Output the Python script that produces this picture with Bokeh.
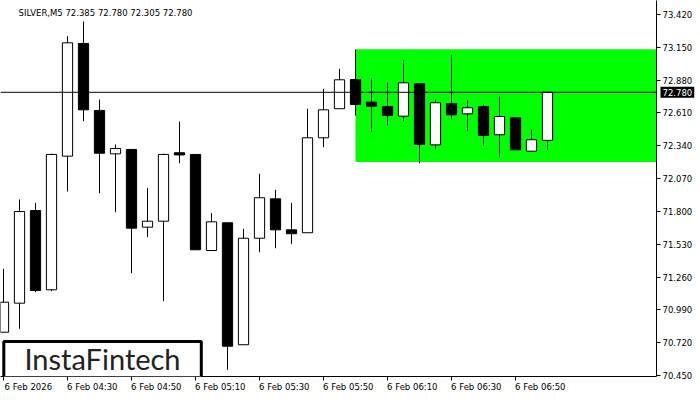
from bokeh.plotting import figure
from bokeh.models import (ColumnDataSource, LinearAxis, FixedTicker, Span, Label,
                          BoxAnnotation, Range1d, NumeralTickFormatter)
from bokeh.embed import file_html
from bokeh.resources import INLINE

# ---- data (SILVER, M5) ----
opens  = [70.807, 71.046, 71.808, 71.156, 72.255, 73.182, 72.631, 72.274, 72.310, 71.671,
          71.720, 72.283, 72.269, 71.479, 71.707, 70.704, 71.580, 71.904, 71.649, 71.625,
          72.406, 72.645, 72.885, 72.699, 72.663, 72.584, 72.850, 72.348, 72.686, 72.603,
          72.663, 72.431, 72.570, 72.296, 72.385]
highs  = [71.329, 71.899, 71.871, 72.275, 73.242, 73.362, 72.721, 72.351, 72.310, 71.994,
          72.275, 72.540, 72.269, 71.786, 71.707, 71.658, 72.110, 71.978, 71.871, 72.645,
          72.809, 72.973, 73.132, 72.899, 72.858, 73.047, 72.850, 72.721, 73.083, 72.713,
          72.680, 72.746, 72.570, 72.474, 72.780]
lows   = [70.807, 70.835, 71.136, 71.145, 71.964, 72.543, 71.950, 71.794, 71.293, 71.589,
          71.062, 72.197, 71.485, 71.479, 70.498, 70.704, 71.465, 71.498, 71.534, 71.625,
          72.329, 72.645, 72.589, 72.452, 72.507, 72.543, 72.197, 72.307, 72.557, 72.460,
          72.337, 72.246, 72.307, 72.296, 72.305]
closes = [71.054, 71.800, 71.150, 72.269, 73.187, 72.636, 72.279, 72.318, 71.663, 71.720,
          72.269, 72.265, 71.485, 71.715, 70.692, 71.580, 71.913, 71.649, 71.617, 72.406,
          72.636, 72.883, 72.680, 72.666, 72.589, 72.858, 72.351, 72.694, 72.595, 72.653,
          72.425, 72.581, 72.307, 72.390, 72.780]

time_tick_idx = [0, 4, 8, 12, 16, 20, 24, 28, 32]
time_labels = ["6 Feb 2026", "6 Feb 04:30", "6 Feb 04:50", "6 Feb 05:10", "6 Feb 05:30",
               "6 Feb 05:50", "6 Feb 06:10", "6 Feb 06:30", "6 Feb 06:50"]
price_ticks = [73.420, 73.150, 72.880, 72.610, 72.340, 72.070, 71.800, 71.530,
               71.260, 70.990, 70.720, 70.450]

pattern_start = 22
pattern_top = 73.135
pattern_bottom = 72.207

title_text = "SILVER,M5  72.385 72.780 72.305 72.780"
last_price = closes[-1]

FONT = "DejaVu Sans"
LABEL_SHIFT = 1.55   # time labels start at their tick (half label width, in bars)

idx = list(range(len(opens)))
src = ColumnDataSource(dict(
    x=idx, open=opens, high=highs, low=lows, close=closes,
    top=[max(o, c) for o, c in zip(opens, closes)],
    bottom=[min(o, c) for o, c in zip(opens, closes)],
    fill=["white" if c >= o else "black" for o, c in zip(opens, closes)],
))

X0, X1 = -0.1875, 40.8125
p = figure(frame_width=656, frame_height=376,
           x_range=Range1d(X0, X1), y_range=Range1d(70.443, 73.535),
           output_backend="svg", toolbar_location=None,
           x_axis_location=None, y_axis_location=None,
           min_border_left=0, min_border_top=0, min_border_right=36, min_border_bottom=15)
p.outline_line_color = None
p.grid.visible = False
p.background_fill_color = "white"
p.border_fill_color = "white"

# pattern rectangle
p.add_layout(BoxAnnotation(left=pattern_start, top=pattern_top, bottom=pattern_bottom,
                           fill_color="#00FF00", fill_alpha=1.0, line_color=None,
                           level="underlay"))

# last price line
p.add_layout(Span(location=last_price, dimension="width", line_color="black", line_width=1))

# candles
p.segment(x0="x", y0="low", x1="x", y1="high", source=src, line_color="black", line_width=1)
p.vbar(x="x", width=0.64, top="top", bottom="bottom", source=src,
       fill_color="fill", line_color="black", line_width=1)

# axes
x_tick_axis = LinearAxis(ticker=FixedTicker(ticks=time_tick_idx),
                         major_label_overrides={t: "" for t in time_tick_idx})
x_tick_axis.major_label_text_font_size = "0px"
x_tick_axis.major_label_standoff = 0
x_label_ticks = [t + LABEL_SHIFT for t in time_tick_idx]
x_label_axis = LinearAxis(ticker=FixedTicker(ticks=x_label_ticks),
                          major_label_overrides={t: l for t, l in zip(x_label_ticks, time_labels)})
x_label_axis.axis_line_color = None
x_label_axis.major_tick_line_color = None
x_label_axis.major_tick_in = 0
x_label_axis.major_tick_out = 0
x_label_axis.major_label_standoff = 1

yaxis = LinearAxis(ticker=FixedTicker(ticks=price_ticks),
                   formatter=NumeralTickFormatter(format="0.000"))
yaxis.major_label_standoff = 2
for ax in (x_tick_axis, yaxis):
    ax.axis_line_color = "black"
    ax.axis_line_width = 1
    ax.major_tick_line_color = "black"
    ax.major_tick_in = 0
    ax.major_tick_out = 4
for ax in (x_tick_axis, x_label_axis, yaxis):
    ax.minor_tick_line_color = None
    ax.major_label_text_font = FONT
    ax.major_label_text_color = "black"
x_label_axis.major_label_text_font_size = "8.5px"
yaxis.major_label_text_font_size = "8.5px"
p.add_layout(x_tick_axis, "below")
p.add_layout(x_label_axis, "below")
p.add_layout(yaxis, "right")

# current price tag (side panel, so it is not clipped to the frame)
p.add_layout(Label(x=X1, y=last_price, x_units="data", y_units="data",
                   text=f"{last_price:.3f}", text_font=FONT, text_font_size="8.5px",
                   text_color="white", text_baseline="middle", text_align="left",
                   background_fill_color="black", x_offset=4, padding=2), "right")

# title
p.add_layout(Label(x=18, y=364, x_units="screen", y_units="screen",
                   text=title_text, text_font=FONT, text_font_size="8.5px",
                   text_color="black", text_baseline="middle", text_align="left"))

# logo
p.add_layout(BoxAnnotation(left=3.3, right=200.8, bottom=-1, top=35,
                           left_units="screen", right_units="screen",
                           bottom_units="screen", top_units="screen",
                           fill_color="white", fill_alpha=1.0,
                           line_color="black", line_alpha=1.0, line_width=3))
p.add_layout(Label(x=102, y=18, x_units="screen", y_units="screen",
                   text="InstaFintech", text_font="Lato", text_font_size="29px",
                   text_color="#222222", text_baseline="middle", text_align="center"))

open("out.html", "w").write(file_html(p, INLINE))
